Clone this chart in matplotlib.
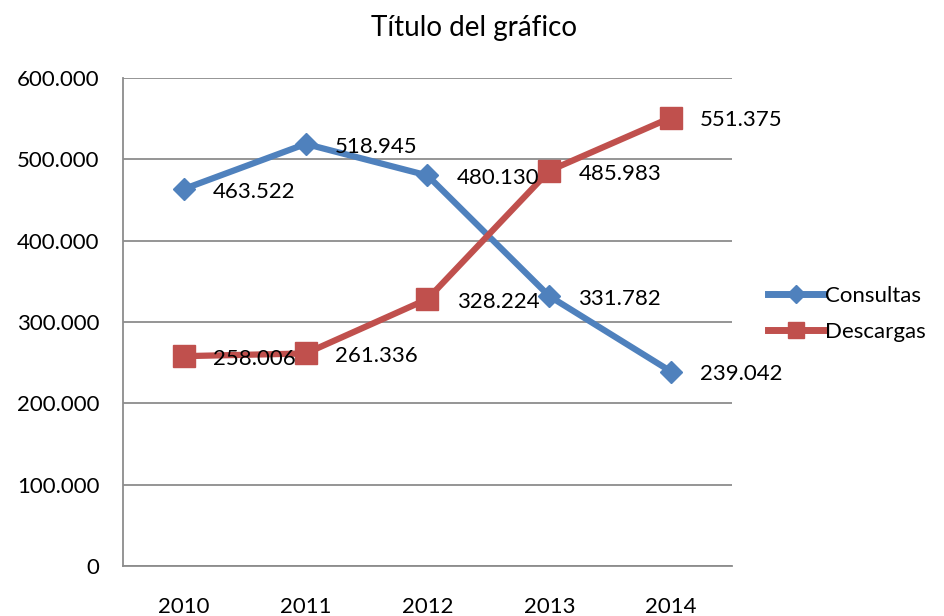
import matplotlib.pyplot as plt
from matplotlib.ticker import FuncFormatter

# data
years = ['2010', '2011', '2012', '2013', '2014']
consultas = [463522, 518945, 480130, 331782, 239042]
descargas = [258006, 261336, 328224, 485983, 551375]

plt.rcParams['font.family'] = ['Lato', 'DejaVu Sans']

fig = plt.figure(figsize=(9.45, 6.16), dpi=100)
ax = fig.add_axes([123 / 945, 1 - 566 / 616, (732 - 123) / 945, (566 - 78) / 616])

x = range(len(years))
blue = '#4F81BD'
red = '#C0504D'

ax.plot(x, consultas, color=blue, lw=4.5, marker='D', ms=11,
        markeredgecolor=blue, label='Consultas', zorder=3)
ax.plot(x, descargas, color=red, lw=4.5, marker='s', ms=16,
        markeredgecolor=red, label='Descargas', zorder=3)

def fmt(v, pos=None):
    if v == 0:
        return '0'
    return f'{int(v):,}'.replace(',', '.')

# data labels to the right of each point
for i in x:
    for vals in (consultas, descargas):
        ax.annotate(fmt(vals[i]), (i, vals[i]), xytext=(21, -2),
                    textcoords='offset points', ha='left', va='center',
                    fontsize=16, zorder=4)

ax.set_xlim(-0.5, 4.5)
ax.set_ylim(0, 600000)
ax.set_yticks(range(0, 600001, 100000))
ax.yaxis.set_major_formatter(FuncFormatter(fmt))
ax.set_xticks(list(x))
ax.set_xticklabels(years)
ax.tick_params(axis='both', length=0, labelsize=16)
ax.tick_params(axis='y', pad=17)
ax.tick_params(axis='x', pad=22)

ax.grid(axis='y', color='#8C8C8C', lw=1.3)
ax.set_axisbelow(True)
for s in ['top', 'right']:
    ax.spines[s].set_visible(False)
for s in ['left', 'bottom']:
    ax.spines[s].set_color('#8C8C8C')
    ax.spines[s].set_linewidth(1.3)

fig.text(474 / 945, 1 - 28 / 616, 'Título del gráfico', ha='center',
         va='center', fontsize=20)

leg = ax.legend(loc='center left', bbox_to_anchor=(768 / 945, 1 - 314 / 616),
                bbox_transform=fig.transFigure, frameon=False, fontsize=16,
                handlelength=2.5, handletextpad=0.05, labelspacing=0.7,
                borderpad=0, borderaxespad=0)
for h, ms in zip(leg.legend_handles, (9, 12)):
    h.set_markersize(ms)
    h.set_linewidth(5)

fig.savefig('out.png', dpi=100)
